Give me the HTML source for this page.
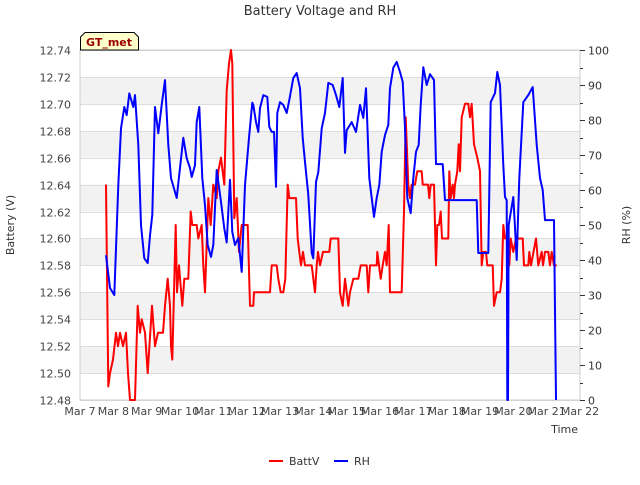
<!DOCTYPE html>
<html><head><meta charset="utf-8"><style>
body{margin:0;background:#fff;font-family:"Liberation Sans","DejaVu Sans",sans-serif}
svg text{font-family:"DejaVu Sans","Liberation Sans",sans-serif}
</style></head><body>
<svg id="chart" width="640" height="480" viewBox="0 0 640 480">
<text x="320" y="15" text-anchor="middle" font-size="13" fill="#333">Battery Voltage and RH</text>
<g id="bands"></g><g id="grid"></g>
<rect x="80" y="50" width="500" height="350" fill="none" stroke="#ccc"/>
<g id="xticks"></g><g id="lticks"></g><g id="rticks"></g>
<g id="series"></g>
<text x="14" y="225" transform="rotate(-90 14 225)" text-anchor="middle" font-size="11" fill="#333">Battery (V)</text>
<text x="630" y="225" transform="rotate(-90 630 225)" text-anchor="middle" font-size="11" fill="#333">RH (%)</text>
<text x="578" y="433" text-anchor="end" font-size="11" fill="#333">Time</text>
<g>
<path d="M80.5,50 L80.5,37 L85,32.5 L134,32.5 L138.5,37 L138.5,50 Z" fill="#ffffcc" stroke="#000"/>
<text x="109" y="46" text-anchor="middle" font-size="11" font-weight="bold" fill="#990000">GT_met</text>
</g>
<g><line x1="269" y1="461" x2="283" y2="461" stroke="#f00" stroke-width="2"/><text x="289" y="465" font-size="11" fill="#333">BattV</text></g>
<g><line x1="334" y1="461" x2="348" y2="461" stroke="#00f" stroke-width="2"/><text x="354" y="465" font-size="11" fill="#333">RH</text></g>
</svg>
<script>
const xTickLabels=["Mar 7","Mar 8","Mar 9","Mar 10","Mar 11","Mar 12","Mar 13","Mar 14","Mar 15","Mar 16","Mar 17","Mar 18","Mar 19","Mar 20","Mar 21","Mar 22"];
const leftTicks=[12.48,12.50,12.52,12.54,12.56,12.58,12.60,12.62,12.64,12.66,12.68,12.70,12.72,12.74];
const rightTicks=[0,10,20,30,40,50,60,70,80,90,100];
const battT=[0.78,0.85,0.90,0.99,1.08,1.14,1.20,1.29,1.38,1.44,1.50,1.65,1.73,1.80,1.85,1.95,2.03,2.16,2.25,2.34,2.49,2.55,2.63,2.70,2.73,2.77,2.87,2.91,2.97,3.07,3.13,3.25,3.32,3.37,3.50,3.55,3.65,3.70,3.75,3.85,3.92,4.00,4.10,4.15,4.23,4.33,4.40,4.47,4.53,4.57,4.63,4.70,4.77,4.85,5.03,5.10,5.20,5.22,5.70,5.75,5.90,5.95,6.02,6.10,6.16,6.23,6.28,6.48,6.53,6.58,6.63,6.69,6.75,6.95,7.05,7.10,7.14,7.20,7.29,7.48,7.52,7.75,7.80,7.88,7.95,8.05,8.10,8.20,8.35,8.42,8.60,8.65,8.70,8.90,8.92,8.97,9.02,9.08,9.15,9.20,9.26,9.30,9.65,9.72,9.77,9.85,9.90,9.95,10.05,10.12,10.25,10.28,10.44,10.48,10.52,10.62,10.68,10.72,10.77,10.82,10.86,11.05,11.08,11.12,11.18,11.22,11.25,11.32,11.36,11.40,11.45,11.55,11.65,11.70,11.75,11.82,11.92,12.00,12.05,12.10,12.18,12.22,12.38,12.42,12.50,12.60,12.65,12.70,12.75,12.81,12.88,12.92,13.00,13.08,13.28,13.32,13.45,13.48,13.53,13.68,13.75,13.85,13.89,13.95,14.05,14.10,14.15,14.22,14.30];
const battV=[12.64,12.49,12.50,12.51,12.53,12.52,12.53,12.52,12.53,12.50,12.48,12.48,12.55,12.53,12.54,12.53,12.50,12.55,12.52,12.53,12.53,12.55,12.57,12.55,12.52,12.51,12.61,12.56,12.58,12.55,12.57,12.57,12.62,12.61,12.61,12.60,12.61,12.58,12.56,12.63,12.61,12.64,12.63,12.65,12.66,12.64,12.71,12.73,12.74,12.73,12.615,12.63,12.59,12.61,12.61,12.55,12.55,12.56,12.56,12.58,12.58,12.57,12.56,12.56,12.57,12.64,12.63,12.63,12.60,12.59,12.58,12.59,12.58,12.58,12.56,12.58,12.59,12.58,12.59,12.59,12.60,12.60,12.56,12.55,12.57,12.55,12.56,12.57,12.57,12.58,12.58,12.56,12.58,12.58,12.59,12.58,12.57,12.58,12.59,12.58,12.61,12.56,12.56,12.62,12.69,12.64,12.63,12.64,12.64,12.65,12.65,12.64,12.64,12.63,12.64,12.64,12.58,12.61,12.61,12.62,12.60,12.60,12.65,12.63,12.64,12.63,12.64,12.65,12.67,12.65,12.69,12.70,12.70,12.69,12.70,12.67,12.66,12.65,12.58,12.59,12.59,12.58,12.58,12.55,12.56,12.56,12.57,12.61,12.60,12.60,12.58,12.60,12.59,12.60,12.60,12.58,12.58,12.59,12.58,12.60,12.58,12.59,12.58,12.59,12.59,12.58,12.59,12.58,12.58];
const rhT=[0.78,0.90,1.03,1.15,1.23,1.33,1.40,1.48,1.60,1.65,1.75,1.83,1.93,2.03,2.10,2.17,2.25,2.35,2.45,2.55,2.65,2.73,2.90,3.00,3.10,3.20,3.30,3.35,3.45,3.50,3.58,3.67,3.75,3.83,3.93,4.00,4.10,4.23,4.33,4.40,4.50,4.57,4.65,4.75,4.85,4.95,5.07,5.17,5.20,5.28,5.35,5.40,5.50,5.62,5.68,5.75,5.82,5.88,5.92,6.00,6.10,6.20,6.28,6.40,6.50,6.60,6.68,6.75,6.85,6.95,7.00,7.08,7.15,7.25,7.35,7.45,7.58,7.68,7.78,7.88,7.95,8.00,8.15,8.28,8.40,8.50,8.58,8.68,8.82,8.90,8.98,9.05,9.15,9.25,9.30,9.40,9.50,9.60,9.68,9.75,9.82,9.92,10.00,10.08,10.16,10.22,10.30,10.40,10.50,10.62,10.68,10.88,10.95,11.90,11.95,12.25,12.32,12.45,12.52,12.60,12.70,12.75,12.80,12.82,12.84,12.86,13.00,13.04,13.10,13.18,13.30,13.45,13.58,13.70,13.80,13.88,13.95,14.22,14.28];
const rhV=[41.4,32,30,61.4,77.6,83.7,81.4,87.6,83.7,87.1,72.9,50,40.5,39.1,47,52.9,83.7,76.2,84.3,91.4,72.9,63.4,57.7,66.3,74.9,69.1,66.3,63.7,67.1,79.4,83.7,63.4,55.7,44.3,40.9,44.3,65.7,56.6,49,45,62.9,48,44.3,46.3,36.6,61.4,74.9,84.9,84.3,79.4,76.6,83.4,87.1,86.6,78,76.6,76.6,60.9,82,85.1,84.3,82,85.7,92,93.4,89.1,74.9,68,58.6,42,40.5,62.3,65.1,77.6,82,90.6,90,87.1,83.7,92,70.6,77.1,79.4,76.6,84.3,80.6,89.1,63.4,52.3,57.7,61.4,70.9,75.7,78.6,89.1,94.9,96.6,93.7,90.9,77.7,57.7,53.4,63.4,70.9,72.9,84.3,95.1,90,93.1,91.4,67.4,67.4,57.1,57.1,42,42,85.1,87.7,93.7,90,67.1,58,57.1,0,0,50,58,50.9,40,63.4,85.1,87.1,89.4,72.9,63.4,60,51.4,51.4,0];

const NS="http://www.w3.org/2000/svg";
const X0=80,X1=580,Y0=400,Y1=50;
const xs=t=>X0+(X1-X0)*t/15;
const yl=v=>Y0-(v-12.48)/(0.26)*(Y0-Y1);
const yr=v=>Y0-v/100*(Y0-Y1);
function mk(tag,attrs,parent){const e=document.createElementNS(NS,tag);for(const k in attrs)e.setAttribute(k,attrs[k]);parent.appendChild(e);return e;}
const bands=document.getElementById('bands'),grid=document.getElementById('grid');
for(let i=0;i<leftTicks.length-1;i++){
  if(i%2===1){const b=mk('rect',{x:X0,y:yl(leftTicks[i+1]),width:X1-X0,height:yl(leftTicks[i])-yl(leftTicks[i+1]),fill:'#f2f2f2'},bands);
  
  }
}
const lt=document.getElementById('lticks');
leftTicks.forEach(v=>{const y=Math.round(yl(v))+0.5;
  const g=mk('line',{x1:X0,x2:X1,y1:y,y2:y,stroke:'#ddd'},grid);
  
  
  const t=mk('text',{x:71,y:y+4,'text-anchor':'end','font-size':11,fill:'#444'},lt);t.textContent=v.toFixed(2);
  
  
});
const rt=document.getElementById('rticks');
rightTicks.forEach(v=>{const y=Math.round(yr(v))+0.5;
  mk('line',{x1:X1,x2:X1+5,y1:y,y2:y,stroke:'#333'},rt);
  if(v<100){const y2=Math.round(yr(v+5))+0.5;mk('line',{x1:X1,x2:X1+3,y1:y2,y2:y2,stroke:'#333'},rt);}
  const t=mk('text',{x:588,y:y+4,'font-size':11,fill:'#333'},rt);t.textContent=v;
  
  
});
const xt=document.getElementById('xticks');
xTickLabels.forEach((s,i)=>{const x=xs(i);
  const t=mk('text',{x:x,y:415,'text-anchor':'middle','font-size':11,fill:'#444'},xt);t.textContent=s;
  
  
});
const ser=document.getElementById('series');
const p1=mk('polyline',{points:battT.map((t,i)=>xs(t).toFixed(1)+','+yl(battV[i]).toFixed(1)).join(' '),fill:'none',stroke:'#f00','stroke-width':2,'stroke-linejoin':'round'},ser);


const p2=mk('polyline',{points:rhT.map((t,i)=>xs(t).toFixed(1)+','+yr(rhV[i]).toFixed(1)).join(' '),fill:'none',stroke:'#00f','stroke-width':2,'stroke-linejoin':'round'},ser);


</script>
</body></html>
